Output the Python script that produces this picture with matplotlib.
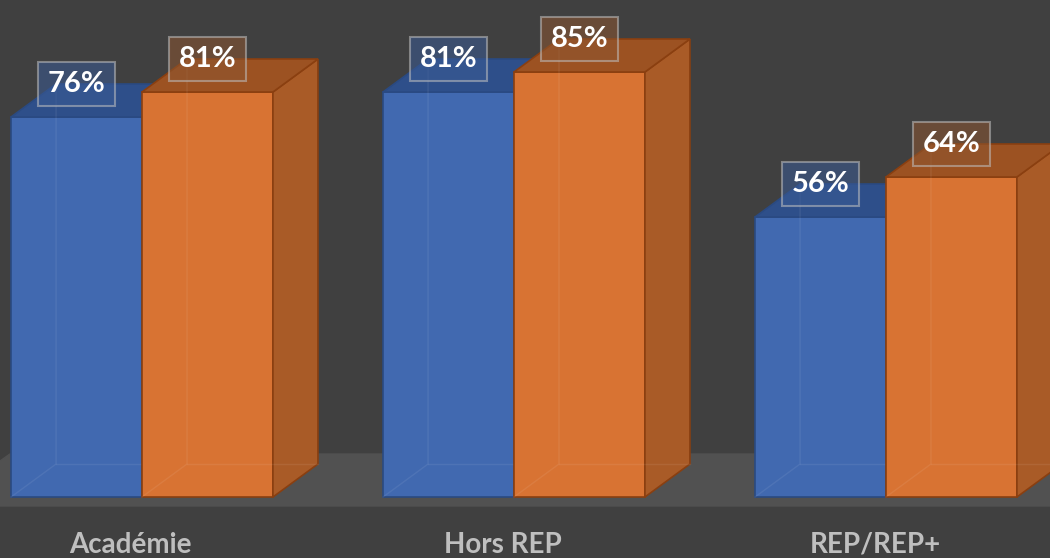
#!/usr/bin/env python3
"""
Histogramme 3D (style Excel) : taux par secteur, deux séries
"""

import matplotlib.pyplot as plt

categories = ["Académie", "Hors REP", "REP/REP+"]
serie_a = [76, 81, 56]
serie_b = [81, 85, 64]

# couleurs (face avant, dessus, côté, bord)
bleu = ("#4169B0", "#2E4F8A", "#35589A", "#2A4A82")
orange = ("#D87333", "#9C5222", "#A95B27", "#8A3F10")

FOND = "#404040"
SOL = "#515151"

largeur = 0.352      # largeur d'une barre (unités de catégorie)
dx, dy = 0.121, 6.6  # profondeur de la perspective


def barre_3d(ax, x0, h, couleurs, z):
    face, dessus, cote, bord = couleurs
    x1 = x0 + largeur
    # face avant
    ax.bar(x0, h, width=largeur, align="edge", color=face, edgecolor=bord,
           linewidth=1.2, zorder=z)
    # arêtes cachées (barre légèrement transparente)
    for xs, ys in (([x0, x0 + dx, x0 + dx], [0, dy, h + dy]),
                   ([x0 + dx, x1 + dx], [dy, dy])):
        ax.plot(xs, ys, color="white", lw=1.0, alpha=0.07, zorder=z + 0.5)
    # côté droit
    ax.fill([x1, x1 + dx, x1 + dx, x1], [0, dy, h + dy, h], color=cote,
            ec=bord, lw=1.2, zorder=z)
    # dessus
    ax.fill([x0, x1, x1 + dx, x0 + dx], [h, h, h + dy, h + dy], color=dessus,
            ec=bord, lw=1.2, zorder=z)


def etiquette(ax, x, h, couleur):
    ax.text(x, h + 6.6, f"{h}%", ha="center", va="center", color="white",
            fontsize=21, fontweight="bold", family=["Lato", "DejaVu Sans"],
            zorder=10,
            bbox=dict(boxstyle="square,pad=0.32", fc=couleur, alpha=0.55,
                      ec="#BFBFBF", lw=1.5))


fig = plt.figure(figsize=(10.5, 5.58), dpi=100, facecolor=FOND)
ax = fig.add_axes([0, 0, 1, 1])
ax.set_facecolor(FOND)
ax.set_xlim(-0.3817, 2.4409)
ax.set_ylim(-12.2, 99.4)
ax.axis("off")

# sol
ax.fill([-0.3817, 2.45, 2.45, -0.355, -0.3817],
        [-1.8, -1.8, 8.6, 8.6, 7.2], color=SOL, zorder=1)

for i, cat in enumerate(categories):
    xa = i - largeur
    xb = i
    barre_3d(ax, xa, serie_a[i], bleu, 3)
    barre_3d(ax, xb, serie_b[i], orange, 5)
    etiquette(ax, xa + largeur / 2, serie_a[i], "#3A5A94")
    etiquette(ax, xb + largeur / 2, serie_b[i], "#8C5530")
    ax.text(i - 0.03, -9.6, cat, ha="center", va="center", color="#BFBFBF",
            fontsize=20, fontweight="bold", family=["Lato", "DejaVu Sans"])

plt.savefig("out.png", dpi=100, facecolor=FOND)
